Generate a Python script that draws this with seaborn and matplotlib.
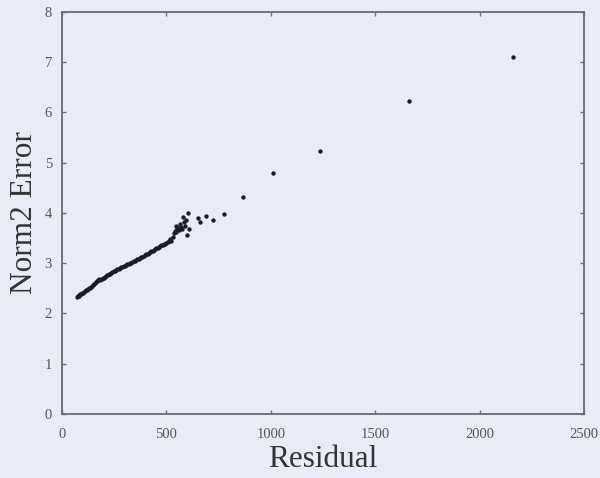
import matplotlib
matplotlib.use("Agg")
import matplotlib.pyplot as plt
import seaborn as sns
import pandas as pd

# Main trend of residual vs. error
residual_main = [72, 76, 80, 84, 88, 92, 96, 100, 105, 110, 115, 120, 125, 130, 135,
                 140, 145, 150, 155, 160, 165, 170, 175, 180, 185, 190, 195, 200, 206,
                 212, 218, 224, 230, 236, 242, 248, 254, 260, 266, 272, 278, 284, 290,
                 296, 302, 308, 314, 320, 326, 332, 338, 344, 350, 356, 362, 368, 374,
                 380, 386, 392, 398, 404, 410, 416, 422, 428, 434, 440, 446, 452, 458,
                 464, 470, 476, 482, 488, 494, 500, 506, 512, 518, 524, 530]
error_main = [2.32, 2.34, 2.35, 2.36, 2.38, 2.39, 2.40, 2.41, 2.43, 2.44, 2.46, 2.47,
              2.49, 2.50, 2.51, 2.53, 2.54, 2.56, 2.58, 2.60, 2.62, 2.64, 2.66, 2.68,
              2.67, 2.68, 2.70, 2.71, 2.73, 2.74, 2.76, 2.78, 2.79, 2.81, 2.82, 2.84,
              2.85, 2.86, 2.88, 2.89, 2.90, 2.92, 2.93, 2.94, 2.95, 2.97, 2.98, 2.99,
              3.00, 3.01, 3.03, 3.04, 3.05, 3.06, 3.08, 3.09, 3.11, 3.12, 3.13, 3.15,
              3.16, 3.18, 3.19, 3.21, 3.22, 3.24, 3.25, 3.27, 3.28, 3.30, 3.31, 3.33,
              3.34, 3.36, 3.37, 3.38, 3.39, 3.40, 3.42, 3.45, 3.48, 3.44, 3.53]

# Scattered cluster and large-residual outliers
residual_tail = [535, 540, 545, 548, 552, 555, 560, 564, 570, 575, 580, 583, 590, 593,
                 601, 606, 607, 650, 663, 689, 724, 775, 865, 1009, 1233, 1659, 2159]
error_tail = [3.60, 3.65, 3.62, 3.75, 3.68, 3.70, 3.66, 3.79, 3.72, 3.68, 3.92, 3.81,
              3.75, 3.85, 3.57, 4.00, 3.69, 3.89, 3.81, 3.93, 3.85, 3.98, 4.31, 4.79,
              5.23, 6.22, 7.11]

x_ticks = [0, 500, 1000, 1500, 2000, 2500]
y_ticks = [0, 1, 2, 3, 4, 5, 6, 7, 8]

df = pd.DataFrame({
    "Residual": residual_main + residual_tail,
    "Norm2 Error": error_main + error_tail,
})

bg = "#E9ECF7"
sns.set_theme(style="white")
plt.rcParams["font.family"] = ["Liberation Serif", "DejaVu Serif"]

fig = plt.figure(figsize=(6.0, 4.78), dpi=100, facecolor=bg)
ax = fig.add_axes([0.103, 0.134, 0.871, 0.841])
ax.set_facecolor(bg)

sns.scatterplot(data=df, x="Residual", y="Norm2 Error", ax=ax,
                color="#1c1c26", s=10, linewidth=0, legend=False)

ax.set_xlim(0, 2500)
ax.set_ylim(0, 8)
ax.set_xticks(x_ticks)
ax.set_yticks(y_ticks)
ax.tick_params(direction="in", length=3, width=1.0, color="#6a6a72",
               labelsize=10.5, labelcolor="#555555", top=True, right=True,
               bottom=True, left=True)
ax.tick_params(axis="x", pad=10)
ax.tick_params(axis="y", pad=7)
for sp in ax.spines.values():
    sp.set_visible(True)
    sp.set_color("#6a6a72")
    sp.set_linewidth(1.3)

ax.set_xlabel("Residual", fontsize=22.5, color="#333333", labelpad=3)
ax.set_ylabel("Norm2 Error", fontsize=22.5, color="#333333", labelpad=4)

fig.savefig("out.png", dpi=100, facecolor=bg)
